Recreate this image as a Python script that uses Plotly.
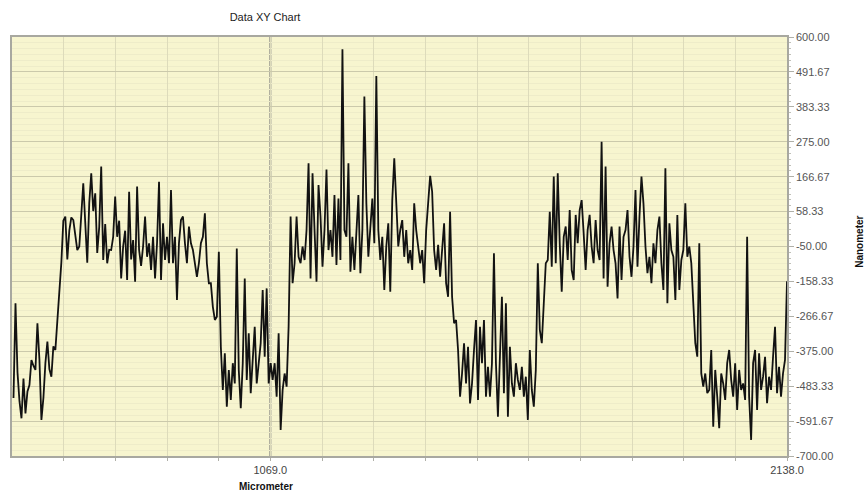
import numpy as np
import plotly.graph_objects as go

title_text = "Data XY Chart"
x_label = "Micrometer"
y_label = "Nanometer"

x_range = [534.5, 2138.0]
x_grid_step = 106.9
x_labeled_ticks = [1069.0, 2138.0]
y_ticks = [600.00, 491.67, 383.33, 275.00, 166.67, 58.33, -50.00, -158.33,
           -266.67, -375.00, -483.33, -591.67, -700.00]

x_first, x_last = 537.6, 2138.0

y_seg1 = [-520, -226, -440, -530, -583, -460, -568, -500, -480, -402, -420, -433, -288, -400, -588,
          -520, -412, -345, -430, -454, -360, -371, -280, -200, -100, 30, 43, -90, -1, 40, 32, -15,
          -61, -50, 63, 146, 22, -100, 84, 177, 60, 115, -70, 10, 198, -92, 20, -102, -60, -61, -20,
          105, -20, 30, -149, -50, -1, -154, 120, -90, -30, -159, 136, -61, -110]
y_seg2 = [-50, 43, -82, -40, -123, -20, -149, -40, 151, -154, 22, -92, -20, -102, 125, -102, -20,
          -216, -40, 32, 43, -40, -102, 12, -40, -61, -102, -144, -102, -40, -20, 53, -102, -164,
          -164, -237, -278, -268, -66, -361, -495, -381, -547, -433, -526, -412, -475, -56, -433,
          -552, -412, -149, -464, -319, -505, -402, -299, -475, -412, -350, -185, -392, -180, -475, -412]
y_seg3 = [-464, -412, -516, -319, -619, -495, -444, -485, -299, 43, -164, -102, 43, -82, -102, -50,
          -92, 1, 208, -149, 177, 1, -159, 141, 43, -113, 1, 189, -61, 1, -82, 110, -107, 99, -92,
          562, 1, -20, 208, -128, -20, -123, 1, 110, -133, 1, 415, 84, -82, 1, 99, -40, 479, 1, -92,
          -20, -185, -50, 22, -190, 94, 224, 63, -50, 1]
y_seg4 = [32, -82, 1, -102, -61, -123, 84, 1, -50, -102, -61, -164, 1, 79, 169, 120, -61, -123, -45,
          -144, -50, 22, -164, -206, 58, -206, -288, -278, -371, -516, -444, -350, -475, -361, -537,
          -475, -371, -278, -526, -299, -412, -278, -516, -423, -516, -412, -71, -412, -578, -392,
          -206, -505, -226, -578, -361, -475, -516, -412, -464, -495, -423, -516, -454, -588, -371]
y_seg5 = [-495, -547, -433, -102, -309, -350, -226, -102, -92, 58, -113, 167, -102, 177, -40, -190,
          -20, 12, -92, 63, -123, -154, 48, -40, 63, 94, -9, -123, 1, 48, -50, -102, 32, -61, -92,
          275, -149, 198, -175, -40, 12, -61, -102, -211, 12, -154, -20, 1, 63, -82, -144, -50, 125,
          -113, 43, 167, 84, -50, -133, -82, -164, -40, -102, 1, 43]
y_seg6 = [-102, -185, 193, -226, 22, -61, -82, -216, 48, -185, -92, -61, 84, -82, -50, -102, -237,
          -350, -392, -40, -444, -485, -444, -505, -495, -371, -609, -433, -516, -614, -444, -475,
          -526, -412, -371, -464, -516, -412, -557, -433, -495, -475, -526, -20, -516, -650, -412,
          -371, -557, -381, -495, -454, -392, -536, -454, -495, -392, -299, -505, -423, -516, -444,
          -402, -158]

y_vals = y_seg1 + y_seg2 + y_seg3 + y_seg4 + y_seg5 + y_seg6
x_vals = np.linspace(x_first, x_last, len(y_vals))

x_grid = list(np.arange(x_range[0] + x_grid_step, x_range[1] + 0.01, x_grid_step))
x_text = []
for g in x_grid:
    lab = ""
    for t in x_labeled_ticks:
        if abs(g - t) < 1:
            lab = f"{t:.1f}"
    x_text.append(lab)

FONT = "Liberation Sans, Arial, sans-serif"

fig = go.Figure()
fig.add_trace(go.Scatter(x=x_vals, y=y_vals, mode="lines",
                         line=dict(color="#121212", width=1.8), showlegend=False,
                         hoverinfo="skip"))

fig.add_vline(x=x_labeled_ticks[0], line_color="#8e8e88", line_width=2, layer="below")

fig.update_layout(
    width=865, height=495,
    margin=dict(l=10, r=78, t=37, b=39),
    paper_bgcolor="white",
    plot_bgcolor="#f7f5cf",
    font=dict(family=FONT, size=11, color="#444"),
    title=dict(text=title_text, x=265 / 865, y=1 - 17 / 495, xref="container", yref="container",
               xanchor="center", yanchor="middle",
               font=dict(family=FONT, size=11, color="#222")),
    xaxis=dict(range=x_range, tickmode="array", tickvals=x_grid, ticktext=x_text,
               showgrid=True, gridcolor="#dddbbb", gridwidth=1, zeroline=False,
               showline=True, linecolor="#a8a8a0", linewidth=1.5, mirror=True,
               ticks="outside", ticklen=3, tickcolor="#b0b0a8",
               tickfont=dict(family=FONT, size=11, color="#444")),
    yaxis=dict(range=[y_ticks[-1], y_ticks[0]], side="right", tickmode="array",
               tickvals=y_ticks, ticktext=[f"{v:.2f}" for v in y_ticks],
               showgrid=True, gridcolor="#cbc9ab", gridwidth=1.2, zeroline=False,
               showline=True, linecolor="#a8a8a0", linewidth=1.5, mirror=True,
               ticks="outside", ticklen=5, tickcolor="#b0b0a8",
               tickfont=dict(family=FONT, size=11, color="#555"),
               minor=dict(tickmode="linear", tick0=y_ticks[-1], dtick=(y_ticks[0] - y_ticks[-1]) / 72,
                          ticks="outside", ticklen=2, tickcolor="#c0c0b8",
                          showgrid=True, gridcolor="#eeecc9", gridwidth=1)),
    annotations=[
        dict(text=f"<b>{x_label}</b>", xref="paper", yref="paper",
             x=(265 - 10) / 777, y=(456 - 486) / 419, xanchor="center", yanchor="middle",
             showarrow=False, font=dict(family=FONT, size=10, color="#111")),
        dict(text=f"<b>{y_label}</b>", xref="paper", yref="paper",
             x=(859 - 10) / 777, y=(456 - 242) / 419, xanchor="center", yanchor="middle",
             textangle=-90, showarrow=False, font=dict(family=FONT, size=10, color="#111")),
    ],
)

fig.write_html("out.html")
